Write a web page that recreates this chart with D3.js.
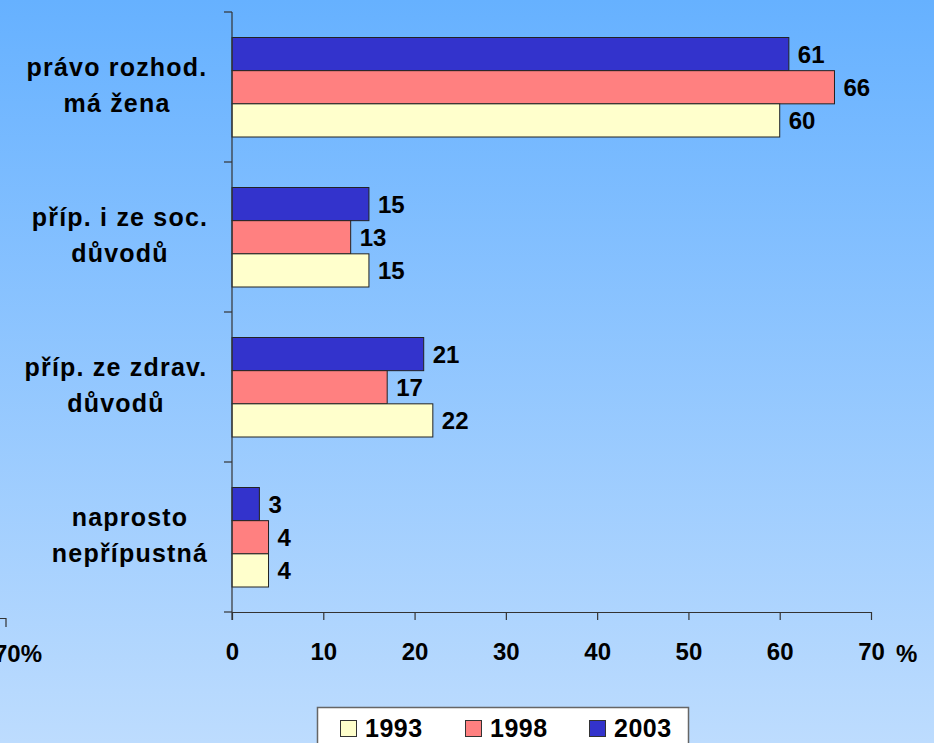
<!DOCTYPE html>
<html>
<head>
<meta charset="utf-8">
<script src="https://cdn.jsdelivr.net/npm/d3@7"></script>
<style>
  html, body { margin: 0; padding: 0; overflow: hidden; }
  svg { display: block; font-family: "Liberation Sans", Arial, sans-serif; font-weight: bold; }
</style>
</head>
<body>
<svg id="chart" width="934" height="743"></svg>
<script>
const categories = [
  ["právo rozhod.", "má žena"],
  ["příp. i ze soc.", "důvodů"],
  ["příp. ze zdrav.", "důvodů"],
  ["naprosto", "nepřípustná"]
];
const series = ["2003", "1998", "1993"]; // top to bottom within a group
const values2003 = [61, 15, 21, 3];
const values1998 = [66, 13, 17, 4];
const values1993 = [60, 15, 22, 4];
const xTicks = [0, 10, 20, 30, 40, 50, 60, 70];
const legendYears = ["1993", "1998", "2003"];

const colors = { "1993": "#ffffcc", "1998": "#ff8080", "2003": "#3333cc" };
const valuesBy = { "2003": values2003, "1998": values1998, "1993": values1993 };
// horizontal centre of each category label
const labelCenter = [117, 120, 116, 130];

const svg = d3.select("#chart");

// background gradient
const grad = svg.append("defs").append("linearGradient")
  .attr("id", "bg").attr("x1", 0).attr("y1", 0).attr("x2", 0).attr("y2", 1);
grad.append("stop").attr("offset", "0%").attr("stop-color", "#66b1ff");
grad.append("stop").attr("offset", "100%").attr("stop-color", "#bddcfe");
svg.append("rect").attr("width", 934).attr("height", 743).attr("fill", "url(#bg)");

const x = d3.scaleLinear().domain([0, 70]).range([232, 871]);
const y = d3.scaleBand().domain(d3.range(categories.length)).range([12, 612]);
const inner = d3.scaleBand().domain(series).range([25.5, 125]);

// bars
const groups = svg.append("g").selectAll("g")
  .data(categories)
  .join("g")
  .attr("transform", (d, i) => `translate(0,${y(i)})`);

groups.each(function (cat, i) {
  const g = d3.select(this);
  series.forEach((s) => {
    const v = valuesBy[s][i];
    g.append("rect")
      .attr("x", x(0))
      .attr("y", inner(s))
      .attr("width", x(v) - x(0))
      .attr("height", inner.bandwidth())
      .attr("fill", colors[s])
      .attr("stroke", "#222")
      .attr("stroke-width", 1);
    g.append("text")
      .attr("x", x(v) + 9)
      .attr("y", inner(s) + inner.bandwidth() / 2 + 8.5)
      .attr("font-size", 24)
      .attr("fill", "#000")
      .text(v);
  });
  // category label
  const t = g.append("text")
    .attr("text-anchor", "middle")
    .attr("font-size", 25)
    .attr("letter-spacing", 1.2)
    .attr("fill", "#000");
  cat.forEach((line, k) => {
    t.append("tspan")
      .attr("x", labelCenter[i])
      .attr("y", y.bandwidth() / 2 + (k - (cat.length - 1) / 2) * 36 + 7)
      .text(line);
  });
});

// y axis
const yAxis = svg.append("g").attr("stroke", "#333").attr("stroke-width", 1.2);
yAxis.append("line").attr("x1", 232).attr("x2", 232).attr("y1", 12).attr("y2", 620);
y.domain().concat([categories.length]).forEach((i) => {
  const yy = i < categories.length ? y(i) : y.range()[1];
  yAxis.append("line").attr("x1", 224).attr("x2", 232).attr("y1", yy).attr("y2", yy);
});

// x axis
const xAxis = svg.append("g")
  .attr("transform", "translate(0,612)")
  .call(d3.axisBottom(x).tickValues(xTicks).tickSize(8).tickSizeOuter(0).tickPadding(23));
xAxis.select(".domain").attr("stroke", "#333").attr("stroke-width", 1.2);
xAxis.selectAll(".tick line").attr("stroke", "#333").attr("stroke-width", 1.2);
xAxis.selectAll(".tick text")
  .attr("font-size", 24)
  .attr("font-family", "Liberation Sans, Arial, sans-serif")
  .attr("font-weight", "bold")
  .attr("fill", "#000");
svg.append("text")
  .attr("x", 896).attr("y", 662)
  .attr("font-size", 24).attr("fill", "#000")
  .text("%");

// cut-off fragment at the left edge (as in the original slide)
svg.append("path").attr("d", "M0,618.5H6V627").attr("fill", "none").attr("stroke", "#333").attr("stroke-width", 1.2);
svg.append("text")
  .attr("x", 42).attr("y", 662).attr("text-anchor", "end")
  .attr("font-size", 24).attr("fill", "#000")
  .text("70%");

// legend
const legend = svg.append("g");
legend.append("rect")
  .attr("x", 317.5).attr("y", 707.5).attr("width", 371).attr("height", 50)
  .attr("fill", "#fff").attr("stroke", "#666").attr("stroke-width", 1.5);
const legendX = [340, 465, 589];
legendYears.forEach((yr, i) => {
  legend.append("rect")
    .attr("x", legendX[i] + 0.5).attr("y", 720.5).attr("width", 16).attr("height", 16)
    .attr("fill", colors[yr]).attr("stroke", "#333").attr("stroke-width", 1);
  legend.append("text")
    .attr("x", legendX[i] + 25).attr("y", 737)
    .attr("font-size", 25).attr("letter-spacing", 0.5).attr("fill", "#000")
    .text(yr);
});
</script>
</body>
</html>
